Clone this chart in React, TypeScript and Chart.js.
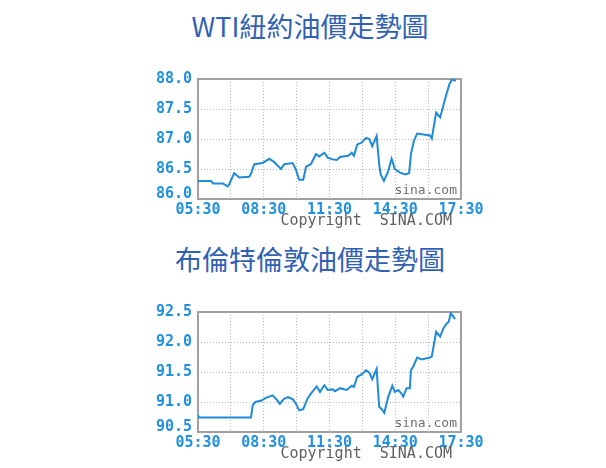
import { Chart, registerables } from "chart.js";
import { useEffect, useRef } from "react";

Chart.register(...registerables);

// minutes after 05:30
const wtiTimes = [0, 36, 41, 68, 81, 85, 99, 113, 140, 145, 154, 177, 195, 208, 227, 236, 259, 268, 277, 288, 296, 309, 323, 332, 346, 355, 369, 380, 389, 411, 421, 427, 436, 448, 460, 469, 477, 489, 496, 500, 509, 520, 530, 539, 553, 567, 578, 583, 591, 600, 635, 640, 652, 663, 676, 688, 695, 706];
const wtiPrices = [86.3, 86.3, 86.26, 86.26, 86.21, 86.24, 86.43, 86.36, 86.37, 86.42, 86.58, 86.6, 86.67, 86.62, 86.5, 86.58, 86.6, 86.49, 86.32, 86.32, 86.54, 86.58, 86.75, 86.71, 86.77, 86.69, 86.66, 86.65, 86.7, 86.72, 86.77, 86.72, 86.91, 86.94, 87.02, 87.0, 86.88, 87.05, 86.58, 86.41, 86.3, 86.45, 86.67, 86.5, 86.44, 86.41, 86.43, 86.75, 86.97, 87.09, 87.06, 87.01, 87.44, 87.36, 87.66, 87.91, 87.99, 87.97];

const brentTimes = [0, 3, 145, 150, 157, 172, 186, 204, 214, 224, 235, 246, 259, 268, 277, 288, 300, 309, 325, 334, 346, 355, 369, 375, 389, 407, 421, 427, 436, 448, 460, 469, 477, 489, 496, 503, 510, 521, 532, 539, 548, 556, 562, 571, 580, 583, 590, 600, 612, 635, 640, 652, 663, 672, 681, 686, 692, 704];
const brentPrices = [90.78, 90.74, 90.74, 90.95, 91.0, 91.02, 91.07, 91.11, 91.05, 90.97, 91.05, 91.08, 91.05, 90.97, 90.86, 90.88, 91.06, 91.14, 91.26, 91.17, 91.28, 91.2, 91.21, 91.18, 91.23, 91.2, 91.27, 91.25, 91.42, 91.46, 91.53, 91.49, 91.38, 91.55, 90.92, 90.88, 90.82, 91.09, 91.27, 91.17, 91.2, 91.15, 91.09, 91.23, 91.23, 91.53, 91.6, 91.74, 91.71, 91.74, 91.76, 92.17, 92.09, 92.23, 92.31, 92.33, 92.48, 92.38];

const wtiTitle = "WTI紐約油價走勢圖";
const brentTitle = "布倫特倫敦油價走勢圖";

const mono = "'DejaVu Sans Mono', 'Liberation Mono', monospace";

function timeLabel(m: number) {
    const total = 5 * 60 + 30 + m;
    const hh = String(Math.floor(total / 60)).padStart(2, "0");
    const mm = String(total % 60).padStart(2, "0");
    return `${hh}:${mm}`;
}

const framePlugin = {
    id: "sinaFrame",
    beforeDatasetsDraw(chart: any) {
        const { ctx, chartArea: a } = chart;
        ctx.save();
        ctx.strokeStyle = "#a0a0a0";
        ctx.lineWidth = 2;
        ctx.strokeRect(a.left, a.top, a.right - a.left, a.bottom - a.top);
        ctx.fillStyle = "#707070";
        ctx.font = `13px ${mono}`;
        ctx.textAlign = "right";
        ctx.textBaseline = "middle";
        ctx.fillText("sina.com", a.right - 4, a.bottom - 8);
        ctx.restore();
    },
    afterDraw(chart: any) {
        const { ctx, chartArea: a } = chart;
        ctx.save();
        ctx.fillStyle = "#606060";
        ctx.font = `15px ${mono}`;
        ctx.textAlign = "right";
        ctx.textBaseline = "middle";
        ctx.fillText("Copyright  SINA.COM", a.right - 9, a.bottom + 22);
        ctx.restore();
    },
};

function PriceChart({ times, prices, yMin, yMax }: { times: number[]; prices: number[]; yMin: number; yMax: number }) {
    const chartRef = useRef<HTMLCanvasElement>(null);
    const chartInstance = useRef<Chart | null>(null);

    useEffect(() => {
        if (chartInstance.current) { chartInstance.current.destroy() }
        const ctx = chartRef.current!.getContext("2d")!;

        chartInstance.current = new Chart(ctx, {
            type: "line",
            data: {
                datasets: [{
                    data: times.map((t, i) => ({ x: t, y: prices[i] })),
                    borderColor: "#1f8ad8",
                    borderWidth: 2,
                    pointRadius: 0,
                    tension: 0,
                    fill: false,
                }],
            },
            options: {
                animation: false,
                responsive: false,
                maintainAspectRatio: false,
                layout: { padding: { left: 148, right: 145, top: 19, bottom: 0 } },
                plugins: { legend: { display: false }, tooltip: { enabled: false }, title: { display: false } },
                scales: {
                    x: {
                        type: "linear",
                        min: 0,
                        max: 720,
                        afterFit: (s: any) => { s.height = 36 },
                        grid: { color: "#b8b8b8", drawTicks: false },
                        border: { display: false, dash: [1, 2] },
                        ticks: {
                            stepSize: 90,
                            autoSkip: false,
                            maxRotation: 0,
                            padding: 2,
                            color: "#2090e0",
                            font: { family: mono, size: 15, weight: "bold" },
                            callback: (v: any) => (Number(v) % 180 === 0 ? timeLabel(Number(v)) : ""),
                        },
                    },
                    y: {
                        min: yMin,
                        max: yMax,
                        afterFit: (s: any) => { s.width = 50 },
                        grid: { color: "#b8b8b8", drawTicks: false },
                        border: { display: false, dash: [1, 2] },
                        ticks: {
                            stepSize: 0.5,
                            padding: 6,
                            color: "#2090e0",
                            // bottom label sits a little above its grid line, as in the original
                            font: (c: any) => ({
                                family: mono,
                                size: 15,
                                weight: "bold",
                                lineHeight: c.tick && c.tick.value === yMin ? 0.7 : 1.2,
                            }),
                            callback: (v: any) => (Number(v) === yMin ? [Number(v).toFixed(1), ""] : Number(v).toFixed(1)),
                        },
                    },
                },
            },
            plugins: [framePlugin],
        });
        return () => {
            if (chartInstance.current) {
                chartInstance.current.destroy();
                chartInstance.current = null;
            }
        };
    }, []);

    return <canvas ref={chartRef} width={606} height={175} style={{ width: 606, height: 175, display: "block" }} />;
}

const titleStyle = (top: number): React.CSSProperties => ({
    position: "absolute",
    left: 0,
    width: 620,
    top,
    height: 30,
    lineHeight: "30px",
    textAlign: "center",
    fontFamily: "'Noto Sans CJK TC', 'Noto Sans', sans-serif",
    fontSize: 27,
    color: "#3161b3",
    whiteSpace: "nowrap",
});

export default function App() {
    return (
        <div style={{ position: "absolute", left: 0, top: 0, width: 606, height: 468, background: "#fff" }}>
            <div style={titleStyle(11)}>{wtiTitle}</div>
            <div style={{ position: "absolute", left: 0, top: 60 }}>
                <PriceChart times={wtiTimes} prices={wtiPrices} yMin={86} yMax={88} />
            </div>
            <div style={titleStyle(244)}>{brentTitle}</div>
            <div style={{ position: "absolute", left: 0, top: 293 }}>
                <PriceChart times={brentTimes} prices={brentPrices} yMin={90.5} yMax={92.5} />
            </div>
        </div>
    );
}
